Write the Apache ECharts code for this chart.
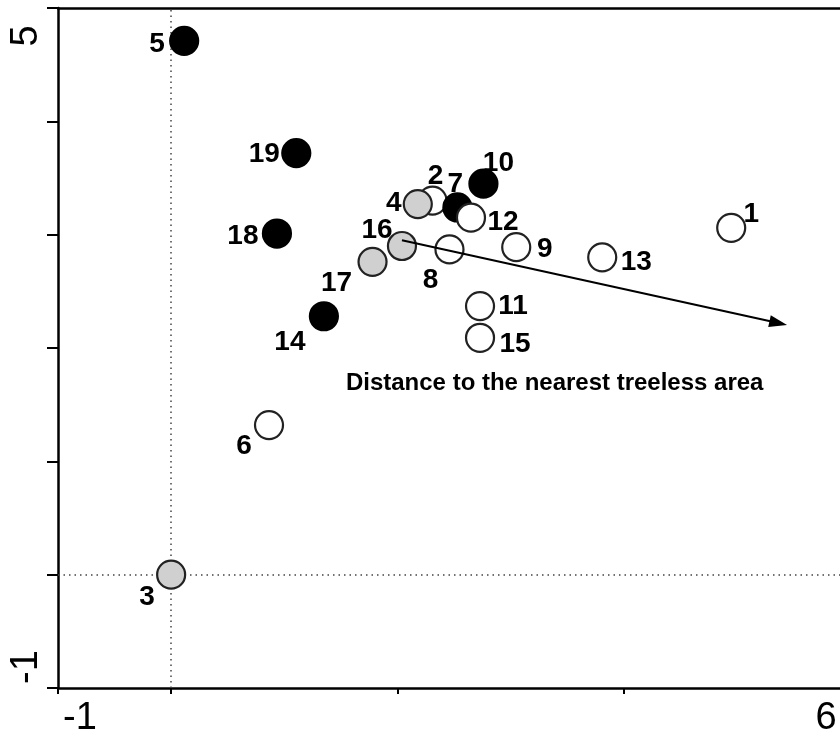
<!DOCTYPE html>
<html>
<head>
<meta charset="utf-8">
<script src="https://cdn.jsdelivr.net/npm/echarts@6/dist/echarts.min.js"></script>
<style>
html,body{margin:0;padding:0;background:#fff;overflow:hidden;}
#chart{width:854px;height:744px;}
</style>
</head>
<body>
<div id="chart"></div>
<script>
// ---- data ----
const pointIds = ['2','4','7','12','1','3','5','6','8','9','10','11','13','14','15','16','17','18','19'];
const xValues  = [2.31, 2.18, 2.53, 2.65, 4.95, 0.00, 0.115, 0.865, 2.46, 3.05, 2.76, 2.73, 3.81, 1.35, 2.73, 2.04, 1.78, 0.935, 1.106];
const yValues  = [3.30, 3.27, 3.24, 3.15, 3.06, 0.00, 4.71, 1.32, 2.87, 2.89, 3.45, 2.37, 2.80, 2.28, 2.09, 2.90, 2.76, 3.01, 3.72];
const groups   = ['open','grey','black','open','open','grey','black','open','open','open','black','open','open','black','open','grey','grey','black','black'];
const arrowStart = [2.04, 2.95];
const arrowEnd   = [5.366, 2.22];
const annotationText = 'Distance to the nearest treeless area';
const annotationPos  = [3.39, 1.69];
const xTickLabels = [-1, 6];
const yTickLabels = [-1, 5];
const xTicks = [-1, 0, 2, 4];

// ---- styles ----
const fills = { black: '#000000', grey: '#d0d0d0', open: '#ffffff' };
const borders = { black: '#000000', grey: '#222222', open: '#222222' };
// label offsets (px) from marker centre
const labelOffsets = {
  '1':[20,-14], '2':[3,-24], '3':[-24,23], '4':[-24,-1], '5':[-27,3.5], '6':[-25,21.5],
  '7':[-2,-23], '8':[-19,31], '9':[28.5,2], '10':[15,-20], '11':[33,0], '12':[32,5],
  '13':[34,5], '14':[-34,26], '15':[35,6], '16':[-25,-16], '17':[-36,21], '18':[-34,3], '19':[-32,1.5]
};
const FONT = '"Liberation Sans", Arial, Helvetica, sans-serif';

const pointData = pointIds.map((id, i) => ({
  name: id,
  value: [xValues[i], yValues[i]],
  itemStyle: { color: fills[groups[i]], borderColor: borders[groups[i]], borderWidth: 2.2, opacity: 1 },
  label: { offset: labelOffsets[id] }
}));

const chart = echarts.init(document.getElementById('chart'), null, { renderer: 'canvas' });

const option = {
  animation: false,
  backgroundColor: '#ffffff',
  grid: { left: 58, top: 8, right: 4, bottom: 56, containLabel: false },
  xAxis: [{
    type: 'value', min: -1, max: 6, position: 'bottom',
    splitLine: { show: false },
    axisLine: { show: true, onZero: false, lineStyle: { color: '#000', width: 2.5 } },
    axisTick: { show: true, customValues: xTicks, length: 6, lineStyle: { color: '#000', width: 2 } },
    axisLabel: {
      show: true, customValues: xTickLabels, margin: 12, color: '#000',
      fontFamily: FONT, fontSize: 38,
      formatter: function (v) {
        if (v === xTickLabels[0]) return '{l|' + v + '}';
        if (v === xTickLabels[1]) return '{r|' + v + '}';
        return '';
      },
      rich: {
        l: { fontFamily: FONT, fontSize: 38, color: '#000', padding: [0, 0, 0, 44] },
        r: { fontFamily: FONT, fontSize: 38, color: '#000', padding: [0, 48, 0, 0] }
      }
    }
  }, {
    type: 'value', min: -1, max: 6, position: 'top',
    splitLine: { show: false },
    axisLine: { show: true, onZero: false, lineStyle: { color: '#000', width: 2.5 } },
    axisTick: { show: false }, axisLabel: { show: false }
  }],
  yAxis: {
    type: 'value', min: -1, max: 5, interval: 1,
    splitLine: { show: false },
    axisLine: { show: true, onZero: false, lineStyle: { color: '#000', width: 2.5 } },
    axisTick: { show: true, length: 11, lineStyle: { color: '#000', width: 2 } },
    axisLabel: {
      show: true, rotate: 90, margin: 12, color: '#000', fontFamily: FONT, fontSize: 38,
      formatter: function (v) {
        if (v === yTickLabels[1]) return '{t|' + v + '}';
        if (v === yTickLabels[0]) return '{b|' + v + '}';
        return '';
      },
      rich: {
        t: { fontFamily: FONT, fontSize: 38, color: '#000', padding: [0, 56, 0, 0] },
        b: { fontFamily: FONT, fontSize: 38, color: '#000', padding: [0, 0, 0, 42] }
      }
    }
  },
  series: [
    {
      type: 'scatter', z: 1, data: [], symbolSize: 0,
      markLine: {
        silent: true, z: 1, symbol: ['none', 'none'], label: { show: false },
        lineStyle: { color: '#444', width: 1.5, type: [1.5, 4], opacity: 1 },
        data: [{ xAxis: 0 }, { yAxis: 0 }]
      }
    },
    {
      type: 'scatter', z: 3, symbol: 'circle', symbolSize: 28,
      data: pointData,
      itemStyle: { opacity: 1 },
      label: {
        show: true, position: 'inside', formatter: '{b}',
        color: '#000', fontFamily: FONT, fontWeight: 'bold', fontSize: 28
      },
      emphasis: { disabled: true }
    },
    {
      type: 'scatter', z: 5, data: [], symbolSize: 0,
      markLine: {
        silent: true, z: 6, symbol: ['none', 'triangle'], symbolSize: [12, 18],
        label: { show: false },
        lineStyle: { color: '#000', width: 2, type: 'solid', opacity: 1 },
        itemStyle: { color: '#000' },
        data: [[{ coord: arrowStart }, { coord: arrowEnd }]]
      }
    },
    {
      type: 'scatter', z: 5, symbolSize: 1,
      itemStyle: { color: 'rgba(0,0,0,0)', opacity: 1 },
      data: [{ name: annotationText, value: annotationPos }],
      label: {
        show: true, position: 'inside', formatter: '{b}',
        color: '#000', fontFamily: FONT, fontWeight: 'bold', fontSize: 24
      },
      emphasis: { disabled: true }
    }
  ]
};
chart.setOption(option);
</script>
</body>
</html>
